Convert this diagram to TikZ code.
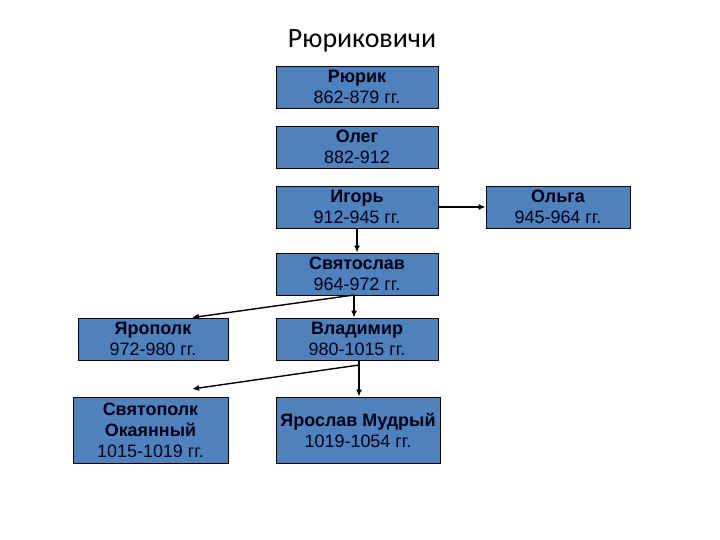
\documentclass[tikz,border=0pt]{standalone}
\usepackage{fontspec}
\setmainfont{Liberation Sans}
\newfontfamily\titlefont{Carlito}
\definecolor{BoxBlue}{RGB}{79,129,189}
\usepackage{tikz}
\usetikzlibrary{arrows.meta}

\begin{document}
\begin{tikzpicture}[x=1bp,y=-1bp,
        ruler/.style={draw=black,fill=BoxBlue,line width=0.8bp,
                    minimum width=162bp,minimum height=42bp,inner sep=0pt,
                    font=\fontsize{18}{21}\selectfont,text=black!90!blue,align=center},
        arrow/.style={-{Latex[length=7bp,width=6bp]},line width=1.4bp,black}]
        \useasboundingbox (0,0) rectangle (720,540);
        \node[font=\titlefont\fontsize{28}{32}\selectfont] (title) at (362,41) {Рюриковичи};

        \node[ruler] (rurik) at (357,87)  {\textbf{Рюрик}\\862-879 гг.};
        \node[ruler] (oleg)  at (357,147) {\textbf{Олег}\\882-912};
        \node[ruler] (igor)  at (357,207) {\textbf{Игорь}\\912-945 гг.};
        \node[ruler,minimum width=144bp] (olga) at (558,207) {\textbf{Ольга}\\945-964 гг.};
        \node[ruler] (svyat) at (357,274) {\textbf{Святослав}\\964-972 гг.};

        % sons of Svyatoslav
        \node[ruler,minimum width=150bp] (yaropolk) at (153,339) {\textbf{Ярополк}\\972-980 гг.};
        \node[ruler] (vladimir) at (357,339) {\textbf{Владимир}\\980-1015 гг.};

        % sons of Vladimir
        \node[ruler,minimum width=155bp,minimum height=66bp] (svyatopolk) at (150.5,430)
            {\textbf{Святополк}\\\textbf{Окаянный}\\1015-1019 гг.};
        \node[ruler,minimum width=164bp,minimum height=66bp] (yaroslav) at (358,430)
            {\textbf{Ярослав Мудрый}\\1019-1054 гг.};

        \coordinate (j1) at (354,295);
        \coordinate (j2) at (359,360);
        \coordinate (toSvp) at (192,389);

        \draw[arrow] (igor.east)--(olga.west);
        \draw[arrow] (igor.south)--(svyat.north);
        \draw[arrow] (j1)--(yaropolk.north -| 192,0);
        \draw[arrow] (j1)--(vladimir.north -| j1);
        \draw[arrow] (j2) -- +(0,5) -- (toSvp);
        \draw[arrow] (j2) -- (yaroslav.north -| j2);
      \end{tikzpicture}
\end{document}
